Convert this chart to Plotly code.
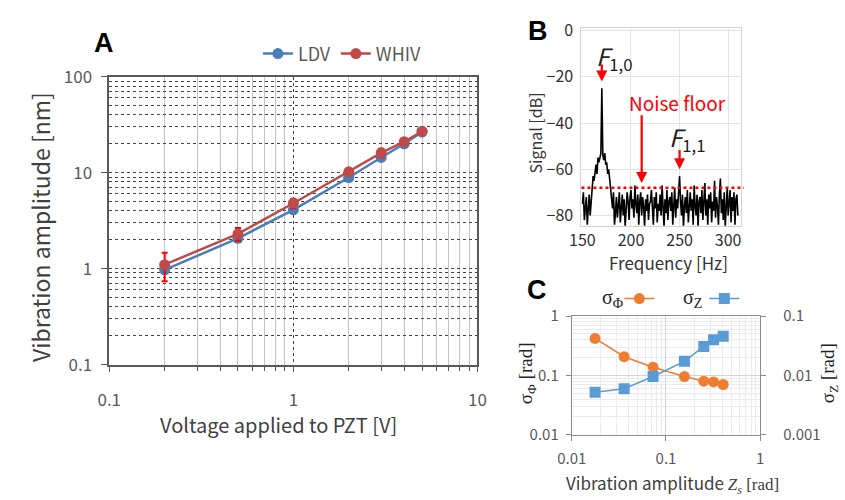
import plotly.graph_objects as go

# ---------------- data ----------------
# Panel A
voltage = [0.2, 0.5, 1, 2, 3, 4, 5]
ldv = [0.97, 2.07, 4.1, 8.9, 14.4, 20.0, 26.5]
ldv_err = [0.05, 0.1, 0.2, 0.3, 0.5, 0.6, 0.8]
whiv = [1.1, 2.3, 4.8, 10.2, 16.1, 21.0, 27.0]
whiv_err = [0.36, 0.35, 0.55, 0.6, 1.6, 1.2, 1.5]

# Panel B
freq = list(range(150, 311))
signal = [
    -75, -70, -82, -78, -72, -84, -76, -71, -80, -74,
    -66, -63, -65, -60, -58, -62, -55, -57, -54, -53,
    -25,
    -54, -56, -53, -58, -57, -62, -60, -64, -68,
    -73, -77, -70, -84, -79, -72, -81, -75, -70, -83,
    -76, -71, -80, -73, -85, -78, -70, -74, -82, -72,
    -69, -77, -73, -81, -67, -75, -79, -71, -84, -74,
    -70, -80, -72, -76, -85, -73, -78, -71, -82, -75,
    -74, -69, -79, -84, -72, -77, -70, -83, -75, -78,
    -71, -80, -67, -76, -85, -73, -79, -69, -82, -74,
    -72, -78, -70, -84, -75, -68, -81, -73, -77, -70,
    -63,
    -74, -80, -71, -85, -76, -72, -79, -69, -83, -75,
    -70, -78, -73, -84, -67, -76, -80, -71, -85, -74,
    -72, -79, -69, -82, -75, -66, -80, -73, -84, -71,
    -77, -70, -83, -74, -78, -65, -81, -72, -76, -84,
    -71, -64, -79, -73, -82, -70, -85, -75, -68, -80,
    -74, -69, -83, -72, -78, -70, -84, -73, -71, -80,
    -76,
]
noise_floor = -68
peak_f10 = (170, -22)
peak_f11 = (250, -60)
noise_arrow = (211, -66)

# Panel C
zs = [0.0177, 0.036, 0.073, 0.157, 0.252, 0.32, 0.405]
sigma_phi = [0.42, 0.207, 0.138, 0.096, 0.080, 0.078, 0.0705]
sigma_z = [0.0052, 0.0060, 0.0096, 0.0173, 0.0308, 0.040, 0.0456]

# ---------------- helpers ----------------
W, H = 845, 500
def px(x): return x / W
def py(y): return 1 - y / H

SANS = "Noto Sans CJK JP"
SERIF = "Liberation Serif"
BLUE = "#4a7ebb"
RED = "#be4b48"
ORANGE = "#ed7d31"
LBLUE = "#5b9bd5"

def minor_log(lo, hi):
    vals = []
    for e in range(lo, hi):
        for d in range(2, 10):
            vals.append(round(d * 10 ** e, 6))
    return vals

fig = go.Figure()

# Panel A traces
fig.add_trace(go.Scatter(
    x=voltage, y=ldv, name="LDV", mode="lines+markers",
    line=dict(color=BLUE, width=2.5), marker=dict(color=BLUE, size=11),
    error_y=dict(type="data", array=ldv_err, color=BLUE, thickness=1.5, width=3),
    xaxis="x", yaxis="y", legend="legend"))
fig.add_trace(go.Scatter(
    x=voltage, y=whiv, name="WHIV", mode="lines+markers",
    line=dict(color=RED, width=2.5), marker=dict(color=RED, size=11),
    error_y=dict(type="data", array=whiv_err, color="#ff0000", thickness=2, width=3),
    xaxis="x", yaxis="y", legend="legend"))

# Panel B trace
fig.add_trace(go.Scatter(
    x=freq, y=signal, mode="lines", line=dict(color="black", width=1.6),
    xaxis="x2", yaxis="y2", showlegend=False))

# Panel C traces
fig.add_trace(go.Scatter(
    x=zs, y=sigma_phi, name=" ", mode="lines+markers",
    line=dict(color=ORANGE, width=1.5), marker=dict(color=ORANGE, size=11, symbol="circle"),
    xaxis="x3", yaxis="y3", legend="legend2"))
fig.add_trace(go.Scatter(
    x=zs, y=sigma_z, name=" ", mode="lines+markers",
    line=dict(color=LBLUE, width=1.5), marker=dict(color=LBLUE, size=11, symbol="square"),
    xaxis="x3", yaxis="y4", legend="legend2"))

axA_common = dict(
    type="log", showline=True, linecolor="#595959", linewidth=1.5, mirror=True,
    ticks="outside", ticklen=6, tickcolor="#595959",
    tickfont=dict(family=SANS, size=17, color="#595959"),
    zeroline=False,
)

fig.update_layout(
    width=W, height=H, margin=dict(l=0, r=0, t=0, b=0),
    paper_bgcolor="white", plot_bgcolor="white",
    font=dict(family=SANS, color="#404040"),
    # Panel A
    xaxis=dict(domain=[px(97), px(476)], anchor="y", range=[-1, 1],
               tickvals=[0.1, 1, 10], ticktext=["0.1", "1", "10"],
               showgrid=True, gridcolor="#444444", griddash="dot", gridwidth=1,
               minor=dict(tickvals=minor_log(-1, 1), showgrid=True, gridcolor="#c4c4c4",
                          griddash="solid", ticks="outside", ticklen=5, tickcolor="#595959"),
               ticklabelstandoff=13, **axA_common),
    yaxis=dict(domain=[py(369), py(66)], anchor="x", range=[-1, 2],
               tickvals=[0.1, 1, 10, 100], ticktext=["0.1", "1", "10", "100"],
               showgrid=True, gridcolor="#444444", griddash="dot", gridwidth=1,
               minor=dict(tickvals=minor_log(-1, 2), showgrid=True, gridcolor="#444444",
                          griddash="dot"),
               ticklabelstandoff=6, **axA_common),
    # Panel B
    xaxis2=dict(domain=[px(583), px(747)], anchor="y2", range=[149, 313],
                tickvals=[150, 200, 250, 300], showgrid=True, gridcolor="#e3e3e3",
                showline=True, linecolor="#d4d4d4", mirror=True, zeroline=False,
                ticks="", ticklabelstandoff=0,
                tickfont=dict(family=SANS, size=16, color="#333333")),
    yaxis2=dict(domain=[py(223), py(15)], anchor="x2", range=[-84.5, 1],
                tickvals=[0, -20, -40, -60, -80], showgrid=True, gridcolor="#e3e3e3",
                showline=True, linecolor="#d4d4d4", mirror=True, zeroline=False,
                ticks="", ticklabelstandoff=4,
                tickfont=dict(family=SANS, size=16, color="#333333")),
    # Panel C
    xaxis3=dict(domain=[px(573), px(767)], anchor="y3", type="log", range=[-2, 0],
                tickvals=[0.01, 0.1, 1], ticktext=["0.01", "0.1", "1"],
                showgrid=True, gridcolor="#d4d4d4",
                minor=dict(tickvals=minor_log(-2, 0), showgrid=True, gridcolor="#ebebeb"),
                showline=True, linecolor="#8c8c8c", mirror=True, zeroline=False,
                ticks="outside", ticklen=5, tickcolor="#8c8c8c", ticklabelstandoff=5,
                tickfont=dict(family=SANS, size=15, color="#595959")),
    yaxis3=dict(domain=[py(443), py(318)], anchor="x3", type="log", range=[-2, 0],
                tickvals=[0.01, 0.1, 1], ticktext=["0.01", "0.1", "1"],
                showgrid=True, gridcolor="#d4d4d4",
                minor=dict(tickvals=minor_log(-2, 0), showgrid=True, gridcolor="#ebebeb"),
                showline=True, linecolor="#8c8c8c", mirror=True, zeroline=False,
                ticks="outside", ticklen=5, tickcolor="#8c8c8c", ticklabelstandoff=4,
                tickfont=dict(family=SANS, size=15, color="#595959")),
    yaxis4=dict(domain=[py(443), py(318)], anchor="x3", overlaying="y3", side="right",
                type="log", range=[-3, -1],
                tickvals=[0.001, 0.01, 0.1], ticktext=["0.001", "0.01", "0.1"],
                showgrid=False, zeroline=False, showline=False,
                ticks="outside", ticklen=5, tickcolor="#8c8c8c", ticklabelstandoff=14,
                tickfont=dict(family=SANS, size=15, color="#595959")),
    legend=dict(orientation="h", x=px(250), y=py(42), xanchor="left", yanchor="middle",
                font=dict(family=SANS, size=18, color="#595959"),
                bgcolor="rgba(0,0,0,0)", itemwidth=30, tracegroupgap=0),
    legend2=dict(orientation="h", x=px(622), y=py(300), xanchor="left", yanchor="middle",
                 font=dict(family=SERIF, size=14, color="#333333"),
                 bgcolor="rgba(0,0,0,0)", entrywidth=40, entrywidthmode="pixels"),
)

# noise floor line
fig.add_shape(type="line", xref="x2 domain", x0=0, x1=1.02, yref="y2",
              y0=noise_floor, y1=noise_floor,
              line=dict(color="#ff0000", width=2.5, dash="dot"))

ann = []
def text(x, y, t, size, color="#404040", family=SANS, angle=0, xanchor="center", **kw):
    ann.append(dict(xref="paper", yref="paper", x=px(x), y=py(y), text=t, showarrow=False,
                    font=dict(family=family, size=size, color=color), textangle=angle,
                    xanchor=xanchor, yanchor="middle", **kw))

# Panel A texts
text(92, 30, "<b>A</b>", 27, color="black", family="Liberation Sans")
text(26, 224, "Vibration amplitude [nm]", 23, angle=-90)
text(271, 432, "Voltage applied to PZT [V]", 20)

# Panel B texts
text(538, 18, "<b>B</b>", 27, color="black", family="Liberation Sans")
text(535, 125, "Signal [dB]", 16, color="#333333", angle=-90)
text(673, 262, "Frequency [Hz]", 17, color="#333333")
text(617, 45, "<i>F</i><sub>1,0</sub>", 24, color="#222222")
text(682, 93, "Noise floor", 19, color="#ff0000")
text(692, 130, "<i>F</i><sub>1,1</sub>", 24, color="#222222")

for (xa, ya), tail in [(peak_f10, -14), (noise_arrow, -36), (peak_f11, -51)]:
    ann.append(dict(xref="x2", yref="y2", x=xa, y=ya, ax=xa, ay=tail, axref="x2", ayref="y2",
                    text="", showarrow=True, arrowhead=2, arrowsize=1, arrowwidth=2.2,
                    arrowcolor="#ff0000"))

# Panel C texts
text(537, 291, "<b>C</b>", 27, color="black", family="Liberation Sans")
text(615, 299, "σ<sub>Φ</sub>", 20, color="#222222", family=SERIF)
text(697, 299, "σ<sub>Z</sub>", 20, color="#222222", family=SERIF)
text(527, 378, "σ<sub>Φ</sub> [rad]", 19, color="#222222", family=SERIF, angle=-90)
text(838, 378, "σ<sub>Z</sub> [rad]", 19, color="#222222", family=SERIF, angle=-90)
text(677, 494, "Vibration amplitude <span style=\"font-family:'Liberation Serif'\"><i>Z<sub>s</sub></i> [rad]</span>",
     17, color="#404040")

fig.update_layout(annotations=ann)
fig.write_html("out.html")
